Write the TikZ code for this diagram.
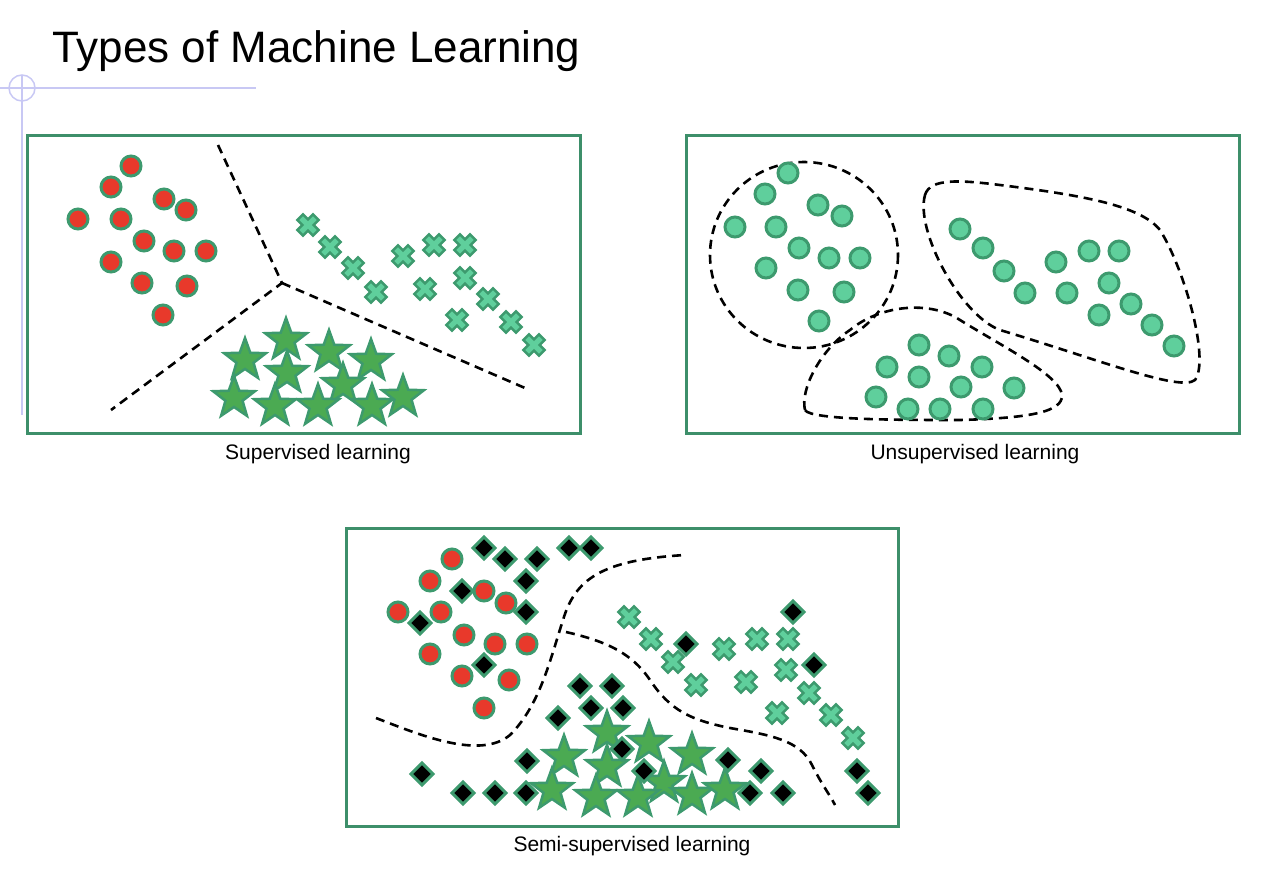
\documentclass[tikz,border=0pt]{standalone}
\usepackage{fontspec}
\setmainfont{Liberation Sans}
\begin{document}
\begin{tikzpicture}[x=1pt,y=-1pt,
  frame/.style={draw=fr,line width=3.2pt},
  sep/.style={line width=2.6pt,dash pattern=on 9pt off 6pt},
  lab/.style={font=\fontsize{21}{24}\selectfont,anchor=center},
  rc/.pic={\draw[draw=gb,fill=rd,line width=3pt] (0,0) circle (10);},
  tc/.pic={\draw[draw=gb,fill=tl,line width=3pt] (0,0) circle (10);},
  dm/.pic={\draw[draw=gb,fill=black,line width=3pt] (0,-11)--(11,0)--(0,11)--(-11,0)--cycle;},
  cr/.pic={\draw[draw=gb,fill=tl,line width=2.5pt,rotate=45] (4,4)--(4,11)--(-4,11)--(-4,4)--(-11,4)--(-11,-4)--(-4,-4)--(-4,-11)--(4,-11)--(4,-4)--(11,-4)--(11,4)--cycle;},
  st/.pic={\draw[draw=gb,fill=sg,line width=2.5pt] (-90:22) \foreach \i in {1,...,9}{ -- ({-90+36*\i}:{mod(\i,2)==0?22:9}) } -- cycle;}
]
\definecolor{fr}{HTML}{3D8F6A}
\definecolor{gb}{HTML}{3D9A6E}
\definecolor{rd}{HTML}{E8392B}
\definecolor{tl}{HTML}{5FCF9C}
\definecolor{sg}{HTML}{4BAA52}
\definecolor{lv}{HTML}{C8C8F4}
\useasboundingbox (0,0) rectangle (1280,871);
% title and guide
\node[anchor=base west,inner sep=0,font=\fontsize{44}{50}\selectfont] (title) at (52,62) {Types of Machine Learning};
\draw[lv,line width=1.5pt] (0,88) -- (256,88);
\draw[lv,line width=1.5pt] (22,75) -- (22,415);
\draw[lv,line width=1.5pt] (22,88) circle (13);
% supervised
\node[frame,minimum width=553pt,minimum height=298pt,anchor=north west,inner sep=0] (p1) at (26,134) {};
\node[lab] (l1) at (318,454) {Supervised learning};
\coordinate (j) at (282,283);
\coordinate (a1) at (218,145); \coordinate (a2) at (111,410); \coordinate (a3) at (525,388);
\draw[sep] (a1) -- (j) -- (a2); \draw[sep] (j) -- (a3);
\foreach \p in {(131,166),(111,187),(164,199),(186,210),(78,219),(121,219),(144,241),(174,251),(206,251),(111,262),(142,283),(187,286),(163,315)} \pic at \p {rc};
\foreach \p in {(308,225),(330,247),(353,268),(376,292),(403,256),(434,245),(465,245),(465,278),(425,289),(488,299),(457,320),(511,322),(534,345)} \pic at \p {cr};
\foreach \p in {(286,340),(245,360),(329,352),(371,361),(287,373),(343,385),(234,398),(275,406),(318,406),(372,406),(403,397)} \pic at \p {st};
% unsupervised
\node[frame,minimum width=553pt,minimum height=298pt,anchor=north west,inner sep=0] (p2) at (685,134) {};
\node[lab] (l2) at (975,454) {Unsupervised learning};
\draw[sep] (804,255) ellipse (94 and 93);
\draw[sep] (925,195) .. controls (930,178) and (960,180) .. (1000,185) .. controls (1080,195) and (1140,205) .. (1160,230) .. controls (1185,270) and (1210,360) .. (1195,380) .. controls (1180,392) and (1100,360) .. (1000,330) .. controls (960,315) and (915,230) .. cycle;
\draw[sep] (805,410) .. controls (800,390) and (820,350) .. (850,330) .. controls (880,305) and (930,300) .. (960,320) .. controls (1000,345) and (1060,375) .. (1062,395) .. controls (1063,412) and (1030,418) .. (960,420) .. controls (900,420) and (810,420) .. cycle;
\foreach \p in {(788,173),(765,194),(818,205),(842,216),(735,227),(776,227),(799,248),(829,258),(860,258),(766,268),(798,290),(844,292),(819,321),
 (960,229),(983,248),(1004,271),(1025,293),(1056,262),(1089,251),(1119,251),(1067,293),(1109,283),(1131,304),(1099,315),(1152,325),(1174,346),
 (919,345),(949,356),(887,367),(919,377),(961,387),(982,367),(1014,388),(876,397),(908,409),(940,409),(983,409)} \pic at \p {tc};
% semi-supervised
\node[frame,minimum width=552pt,minimum height=298pt,anchor=north west,inner sep=0] (p3) at (345,527) {};
\node[lab] (l3) at (632,846) {Semi-supervised learning};
\draw[sep] (376,718) .. controls (420,735) and (480,760) .. (510,735) .. controls (540,705) and (550,660) .. (563,620) .. controls (575,580) and (600,560) .. (685,555);
\draw[sep] (566,632) .. controls (600,640) and (630,650) .. (650,680) .. controls (670,710) and (690,720) .. (730,728) .. controls (770,735) and (800,740) .. (812,765) .. controls (822,785) and (830,795) .. (835,805);
\foreach \p in {(452,559),(430,581),(484,591),(506,603),(398,612),(441,612),(464,635),(495,644),(527,644),(430,654),(462,676),(509,680),(484,708)} \pic at \p {rc};
\foreach \p in {(607,733),(649,743),(564,757),(692,755),(607,767),(664,783),(552,790),(596,797),(638,797),(692,795),(725,790)} \pic at \p {st};
\foreach \p in {(629,617),(651,639),(673,662),(696,685),(724,649),(757,639),(788,639),(786,670),(746,682),(809,693),(777,713),(831,715),(853,738)} \pic at \p {cr};
\foreach \p in {(484,548),(505,559),(537,559),(569,548),(591,548),(526,581),(462,591),(420,623),(526,612),(484,665),(580,686),(612,686),(591,708),(623,708),(558,718),(793,612),(686,644),(814,665),(622,749),(527,761),(644,771),(728,760),(761,771),(422,774),(463,793),(495,793),(526,793),(750,793),(783,793),(857,771),(868,793)} \pic at \p {dm};
\end{tikzpicture}
\end{document}
